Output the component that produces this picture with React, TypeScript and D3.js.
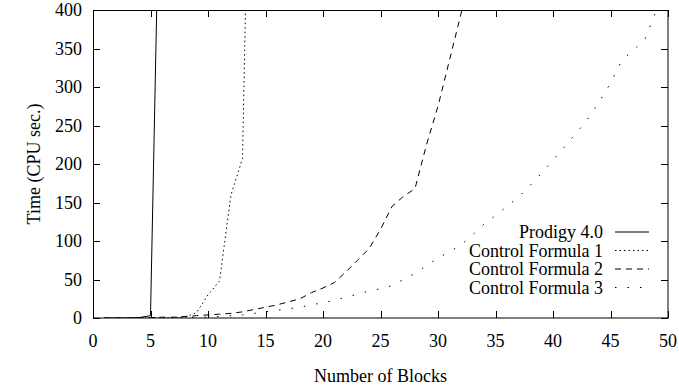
import { useEffect, useRef } from 'react'
import * as d3 from 'd3'

// blocks on the x axis, CPU seconds on the y axis
const prodigyX = [1, 2, 3, 4, 5, 6]
const prodigyY = [0, 0, 0, 0.5, 3, 740]

const cf1X = [1, 2, 3, 4, 5, 6, 7, 8, 9, 10, 11, 12, 13, 14]
const cf1Y = [0, 0, 0, 0, 0, 0, 0.5, 1, 7, 30, 48, 160, 207, 950]

const cf2X = [1, 2, 3, 4, 5, 6, 7, 8, 9, 10, 11, 12, 13, 14, 15, 16, 17, 18, 19, 20, 21, 22, 23, 24, 25, 26, 27, 28, 29, 30, 31, 32, 33]
const cf2Y = [0, 0, 0, 0, 0.5, 1, 1, 2, 3, 4, 5, 6, 8, 11, 14, 17, 21, 25, 33, 39, 46, 60, 75, 90, 115, 145, 158, 168, 225, 275, 335, 395, 460]

const cf3X = [1, 2, 3, 4, 5, 6, 7, 8, 9, 10, 11, 12, 13, 14, 15, 16, 17, 18, 19, 20, 21, 22, 23, 24, 25, 26, 27, 28, 29, 30, 31, 32, 33, 34, 35, 36, 37, 38, 39, 40, 41, 42, 43, 44, 45, 46, 47, 48, 49]
const cf3Y = [0, 0, 0, 0, 0, 0, 0, 0.5, 1, 1, 2, 3, 4, 6, 8, 10, 12, 14, 17, 20, 23, 27, 31, 35, 38, 42, 50, 58, 68, 78, 86, 95, 108, 122, 133, 145, 157, 172, 188, 205, 222, 240, 258, 280, 305, 335, 348, 362, 400]

const seriesNames = ['Prodigy 4.0', 'Control Formula 1', 'Control Formula 2', 'Control Formula 3']
const seriesDash = ['', '1.5,3', '6,5', '1.5,11']

const xTicks = [0, 5, 10, 15, 20, 25, 30, 35, 40, 45, 50]
const yTicks = [0, 50, 100, 150, 200, 250, 300, 350, 400]

const W = 679
const H = 391

export default function App() {
  const svgRef = useRef<SVGSVGElement | null>(null)

  useEffect(() => {
    const margin = { top: 10, right: 11, bottom: 73, left: 93 }
    const innerW = W - margin.left - margin.right
    const innerH = H - margin.top - margin.bottom

    const svg = d3.select(svgRef.current)
    svg.selectAll('*').remove()

    const x = d3.scaleLinear().domain([0, 50]).range([0, innerW])
    const y = d3.scaleLinear().domain([0, 400]).range([innerH, 0])

    const g = svg.append('g').attr('transform', `translate(${margin.left},${margin.top})`)

    g.append('clipPath')
      .attr('id', 'plot-clip')
      .append('rect')
      .attr('width', innerW)
      .attr('height', innerH)

    // ================= TICKS (inward, mirrored) =================
    const tl = 7
    const ticks = g.append('g').attr('stroke', '#000').attr('stroke-width', 1)
    xTicks.forEach((t) => {
      const px = Math.round(x(t)) + 0.5
      ticks.append('line').attr('x1', px).attr('x2', px).attr('y1', innerH).attr('y2', innerH - tl)
      ticks.append('line').attr('x1', px).attr('x2', px).attr('y1', 0).attr('y2', tl)
    })
    yTicks.forEach((t) => {
      const py = Math.round(y(t)) + 0.5
      ticks.append('line').attr('x1', 0).attr('x2', tl).attr('y1', py).attr('y2', py)
      ticks.append('line').attr('x1', innerW).attr('x2', innerW - tl).attr('y1', py).attr('y2', py)
    })

    g.append('g')
      .selectAll('text')
      .data(xTicks)
      .join('text')
      .attr('x', (d) => x(d))
      .attr('y', innerH + 29)
      .attr('text-anchor', 'middle')
      .text((d) => d)

    g.append('g')
      .selectAll('text')
      .data(yTicks)
      .join('text')
      .attr('x', -11)
      .attr('y', (d) => y(d) + 6)
      .attr('text-anchor', 'end')
      .text((d) => d)

    // ================= LINES =================
    const line = d3
      .line<[number, number]>()
      .x((d) => x(d[0]))
      .y((d) => y(d[1]))

    const all: [number, number][][] = [
      prodigyX.map((v, i) => [v, prodigyY[i]]),
      cf1X.map((v, i) => [v, cf1Y[i]]),
      cf2X.map((v, i) => [v, cf2Y[i]]),
      cf3X.map((v, i) => [v, cf3Y[i]]),
    ]

    const lines = g.append('g').attr('clip-path', 'url(#plot-clip)')
    all.forEach((pts, i) => {
      lines
        .append('path')
        .attr('d', line(pts))
        .attr('fill', 'none')
        .attr('stroke', '#000')
        .attr('stroke-width', 1)
        .attr('stroke-dasharray', seriesDash[i] || null)
    })

    // frame
    g.append('rect')
      .attr('x', 0.5)
      .attr('y', 0.5)
      .attr('width', innerW - 0.5)
      .attr('height', innerH - 0.5)
      .attr('fill', 'none')
      .attr('stroke', '#000')

    // ================= LEGEND =================
    const leg = svg.append('g')
    seriesNames.forEach((name, i) => {
      const cy = 232 + i * 18.5
      leg
        .append('text')
        .attr('x', 603)
        .attr('y', cy + 6)
        .attr('text-anchor', 'end')
        .text(name)
      leg
        .append('line')
        .attr('x1', 615)
        .attr('x2', 649)
        .attr('y1', cy)
        .attr('y2', cy)
        .attr('stroke', '#000')
        .attr('stroke-dasharray', seriesDash[i] || null)
    })

    // ================= AXIS TITLES =================
    svg
      .append('text')
      .attr('x', margin.left + innerW / 2)
      .attr('y', 382)
      .attr('text-anchor', 'middle')
      .text('Number of Blocks')

    svg
      .append('text')
      .attr('transform', `translate(40,${margin.top + innerH / 2}) rotate(-90)`)
      .attr('text-anchor', 'middle')
      .text('Time (CPU sec.)')
  }, [])

  return (
    <svg
      ref={svgRef}
      width={W}
      height={H}
      style={{
        position: 'absolute',
        left: 0,
        top: 0,
        background: '#fff',
        fontFamily: 'Liberation Serif, serif',
        fontSize: 18,
      }}
    />
  )
}
